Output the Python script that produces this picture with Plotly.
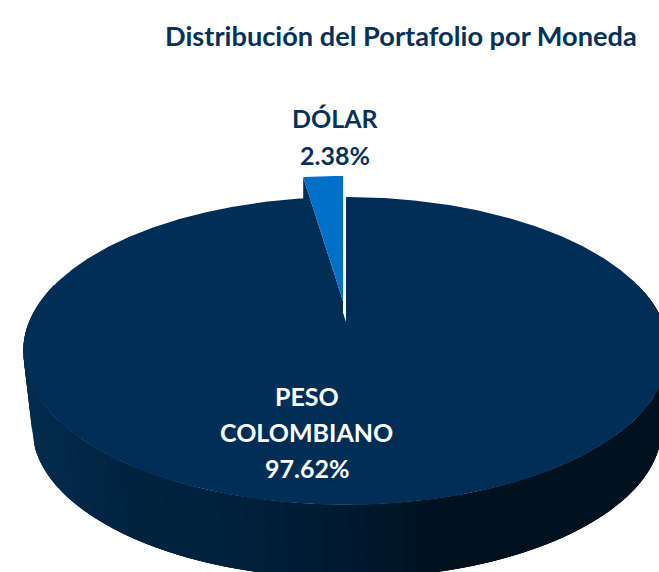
import numpy as np
import plotly.graph_objects as go

# Data
title_text = "Distribución del Portafolio por Moneda"
currencies = [["PESO", "COLOMBIANO"], ["DÓLAR"]]
shares = [97.62, 2.38]

# Style / projection of the tilted disc, in page pixels
W, H = 659, 572
NAVY, BLUE, INK = "#002e57", "#0070c8", "#06325a"
CX, CY = 346.0, 322.0
RX, RY, PERSP = 317.0, 148.5, 0.188
DEPTH_Y, DEPTH_SCALE, DEPTH_X = 78.0, 0.975, 1.0
PULL = (-3.0, -21.0)
SIDE_STOPS_X = [23, 130, 220, 350, 440, 659]
SIDE_STOPS_RGB = [(6, 45, 80), (0, 36, 65), (0, 34, 62), (0, 26, 48), (0, 18, 32), (0, 17, 31)]


def project(angle, r=1.0, scale=1.0, dy=0.0, dx=0.0):
    """angle is clockwise from the top of the pie."""
    u, v = r * np.sin(angle), r * np.cos(angle)
    d = 1 + PERSP * v
    return CX + dx + scale * RX * u / d, CY + dy - scale * RY * v / d


def sector(a0, a1, n=240):
    a = np.linspace(a0, a1, n)
    x, y = project(a)
    return np.r_[CX, x, CX], np.r_[CY, y, CY]


fig = go.Figure()


def fill(x, y, color):
    fig.add_trace(go.Scatter(x=x, y=y, mode="lines", fill="toself", fillcolor=color,
                             line=dict(color=color, width=0), hoverinfo="skip",
                             showlegend=False))


# Side wall: overlapping strips between the upper and the lower rim, right to left
edges = np.linspace(np.radians(75), np.radians(285), 141)
for i in range(len(edges) - 1):
    aa = np.linspace(edges[i], edges[min(i + 3, len(edges) - 1)], 6)
    xt, yt = project(aa)
    xb, yb = project(aa, scale=DEPTH_SCALE, dy=DEPTH_Y, dx=DEPTH_X)
    xm = float(np.mean(xb[:2]))
    rgb = [np.interp(xm, SIDE_STOPS_X, [c[k] for c in SIDE_STOPS_RGB]) for k in range(3)]
    fill(np.r_[xt, xb[::-1], xt[0]], np.r_[yt, yb[::-1], yt[0]], "rgb(%d,%d,%d)" % tuple(rgb))

# Top faces, from the shares
total = sum(shares)
sweep = [2 * np.pi * s / total for s in shares]
mx, my = sector(0, sweep[0], 720)
fill(mx, my, NAVY)

# Pulled-out slice: its cut wall first, then its top
wx, wy = sector(sweep[0], sweep[0] + sweep[1], 40)
wx, wy = wx + PULL[0], wy + PULL[1]
wall_x = [wx[0], wx[1], wx[1], wx[0], wx[0]]
wall_y = [wy[0], wy[1], wy[1] - PULL[1], wy[0] - PULL[1], wy[0]]
fill(wall_x, wall_y, NAVY)
fill(wx, wy, BLUE)

# Labels
FONT = "Lato"


def note(text, x, y, size, color):
    fig.add_annotation(text=text, x=x, y=y, xref="x", yref="y", showarrow=False,
                       xanchor="center", yanchor="middle", align="center",
                       font=dict(family=FONT, size=size, color=color, weight=700))


note(title_text, 400.5, 35, 27.2, INK)
for text, y in zip(currencies[1] + [f"{shares[1]:.2f}%"], [118, 155]):
    note(text, 335, y, 25, INK)
for text, y in zip(currencies[0] + [f"{shares[0]:.2f}%"], [396, 432, 468]):
    note(text, 306.5, y, 25, "#ffffff")

fig.update_layout(width=W, height=H, margin=dict(l=0, r=0, t=0, b=0),
                  paper_bgcolor="white", plot_bgcolor="white", showlegend=False,
                  xaxis=dict(range=[0, W], visible=False, fixedrange=True),
                  yaxis=dict(range=[H, 0], visible=False, fixedrange=True))
fig.write_html("out.html", config={"displayModeBar": False},
               post_script="document.body.style.margin='0';document.documentElement.style.overflow='hidden';")
